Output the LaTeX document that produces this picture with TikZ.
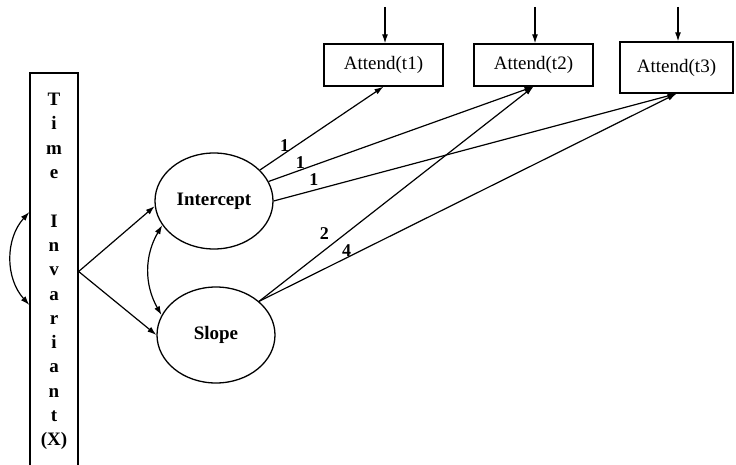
\documentclass[tikz,border=0pt]{standalone}
\usepackage{fontspec}
\setmainfont{Liberation Serif}
\usetikzlibrary{
  calc,%
  arrows.meta,%
  shapes.geometric,%
  positioning
}
\tikzset{>={Latex[length=9pt, width=6pt]}}
\tikzset{
  obsbox/.style={draw, line width=1.3pt, inner sep=0pt,
    font=\fontsize{19}{22}\selectfont},
  latent/.style={draw, ellipse, line width=1.3pt, inner sep=0pt,
    minimum width=118pt, minimum height=96pt,
    font=\fontsize{19}{22}\selectfont\bfseries},
  path/.style={->, line width=1.2pt},
  coef/.style={font=\fontsize{18}{20}\selectfont\bfseries, inner sep=1pt}
}

\begin{document}
\begin{tikzpicture}[x=1pt,y=1pt]
  \useasboundingbox (0,0) rectangle (736,-465);
  % covariate
  \node[obsbox, minimum width=48pt, minimum height=397pt, align=center,
    font=\fontsize{19}{24.3}\selectfont\bfseries] (tiv) at (54,-271.5)
    {T\\i\\m\\e\\~\\I\\n\\v\\a\\r\\i\\a\\n\\t\\(X)};
  % growth factors
  \node[latent] (icpt) at (214,-201) {Intercept};
  \node[latent] (slope) at (216,-335) {Slope};
  % repeated measures
  \node[obsbox, minimum width=119pt, minimum height=42pt] (att1) at (383.5,-65) {Attend(t1)};
  \node[obsbox, minimum width=119pt, minimum height=42pt] (att2) at (533.5,-65) {Attend(t2)};
  \node[obsbox, minimum width=113pt, minimum height=51pt] (att3) at (676.5,-67.5) {Attend(t3)};
  \foreach \x/\i in {385/1,535/2,678/3} {
    \coordinate (e\i) at (\x,-7);
    \draw[path] (e\i) -- (e\i |- att\i.north);
  }
  \draw[path] (tiv.east) -- (icpt.185);
  \draw[path] (tiv.east) -- (slope.west);
  \draw[<->, line width=1.2pt] ([yshift=59.5pt]tiv.west) to[bend right=42] ([yshift=-33.5pt]tiv.west);
  \draw[<->, line width=1.2pt] (icpt.205) to[bend right=30] (slope.160);
  % loadings
  \draw[path] (icpt) -- node[coef, pos=.2, above] {1} (att1.south);
  \draw[path] (icpt) -- node[coef, pos=.12, above] {1} (att2.south);
  \draw[path] (icpt.east) -- node[coef, pos=.1, above=3pt] {1} (att3.south);
  \draw[path] (slope.38) -- node[coef, pos=.26, above left=4pt and 0pt] {2} (att2.south);
  \draw[path] (slope.38) -- node[coef, pos=.21, above] {4} (att3.south);
\end{tikzpicture}
\end{document}
